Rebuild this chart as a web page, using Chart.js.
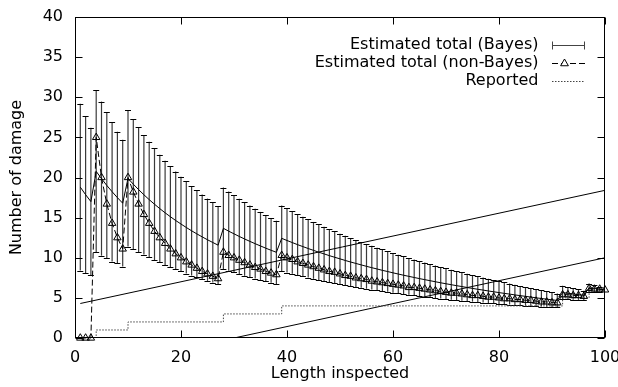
<!DOCTYPE html>
<html>
<head>
<meta charset="utf-8">
<script src="https://cdn.jsdelivr.net/npm/chart.js@4.4.1/dist/chart.umd.min.js"></script>
<style>
html,body{margin:0;padding:0;background:#fff;}
#wrap{width:618px;height:387px;}
</style>
</head>
<body>
<div id="wrap"><canvas id="c" width="618" height="387"></canvas></div>
<script>
// ---------- data ----------
const lengths = [1,2,3,4,5,6,7,8,9,10,11,12,13,14,15,16,17,18,19,20,21,22,23,24,25,26,27,28,29,30,
  31,32,33,34,35,36,37,38,39,40,41,42,43,44,45,46,47,48,49,50,51,52,53,54,55,56,57,58,59,60,
  61,62,63,64,65,66,67,68,69,70,71,72,73,74,75,76,77,78,79,80,81,82,83,84,85,86,87,88,89,90,
  91,92,93,94,95,96,97,98,99,100];

const reported = [0,0,0,1,1,1,1,1,1,2,2,2,2,2,2,2,2,2,2,2,2,2,2,2,2,2,2,3,3,3,
  3,3,3,3,3,3,3,3,4,4,4,4,4,4,4,4,4,4,4,4,4,4,4,4,4,4,4,4,4,4,
  4,4,4,4,4,4,4,4,4,4,4,4,4,4,4,4,4,4,4,4,4,4,4,4,4,4,4,4,4,4,
  4,5,5,5,5,5,6,6,6,6];

const bayesMean = [18.80,17.86,17.00,20.76,19.86,19.01,18.23,17.49,16.80,19.89,19.17,18.49,17.85,17.24,16.67,16.12,15.60,15.11,14.64,14.20,
  13.77,13.36,12.97,12.60,12.24,11.90,11.57,13.67,13.31,12.98,12.65,12.34,12.04,11.75,11.47,11.19,10.93,10.68,12.42,12.15,
  11.89,11.63,11.39,11.15,10.92,10.69,10.48,10.26,10.06,9.86,9.66,9.47,9.29,9.11,8.93,8.76,8.60,8.43,8.28,8.12,
  7.97,7.82,7.68,7.54,7.40,7.27,7.14,7.01,6.88,6.76,6.64,6.52,6.41,6.29,6.18,6.07,5.97,5.86,5.76,5.66,
  5.56,5.47,5.37,5.28,5.19,5.10,5.01,4.92,4.84,4.76,4.68,5.66,5.58,5.49,5.40,5.32,6.26,6.17,6.09,6.00];

const bayesErr = [10.4,9.8,9.2,10.1,9.6,9.1,8.7,8.2,7.9,8.5,8.1,7.8,7.45,7.2,6.95,6.7,6.5,6.3,6.1,5.9,
  5.74,5.58,5.42,5.27,5.13,4.99,4.85,5.07,4.94,4.81,4.69,4.57,4.46,4.35,4.24,4.13,4.03,3.94,4.09,3.99,
  3.89,3.80,3.71,3.62,3.54,3.46,3.37,3.29,3.22,3.14,3.07,3.00,2.93,2.86,2.79,2.72,2.66,2.60,2.53,2.47,
  2.41,2.35,2.29,2.24,2.18,2.13,2.07,2.02,1.96,1.91,1.86,1.81,1.76,1.71,1.65,1.61,1.56,1.51,1.46,1.41,
  1.36,1.31,1.26,1.21,1.16,1.11,1.06,1.01,0.96,0.91,0.85,0.84,0.78,0.72,0.65,0.58,0.52,0.42,0.30,0];

const nonBayes = [0,0,0,25.0,20.0,16.7,14.3,12.5,11.1,20.0,18.2,16.7,15.4,14.3,13.3,12.5,11.8,11.1,10.5,10.0,
  9.5,9.1,8.7,8.3,8.0,7.7,7.4,10.7,10.3,10.0,9.7,9.4,9.1,8.8,8.6,8.3,8.1,7.9,10.3,10.0,
  9.8,9.5,9.3,9.1,8.9,8.7,8.5,8.3,8.2,8.0,7.8,7.7,7.5,7.4,7.3,7.1,7.0,6.9,6.8,6.7,
  6.6,6.5,6.3,6.3,6.2,6.1,6.0,5.9,5.8,5.7,5.6,5.6,5.5,5.4,5.3,5.3,5.2,5.1,5.1,5.0,
  4.9,4.9,4.8,4.8,4.7,4.7,4.6,4.5,4.5,4.4,4.4,5.4,5.4,5.3,5.3,5.2,6.2,6.1,6.1,6.0];

const lineAX = [1, 100];
const lineAY = [4.3, 18.4];
const lineBX = [30, 100];
const lineBY = [0, 10];

const xTicks = [0, 20, 40, 60, 80, 100];
const yTicks = [0, 5, 10, 15, 20, 25, 30, 35, 40];
const seriesNames = ['Estimated total (Bayes)', 'Estimated total (non-Bayes)', 'Reported'];
const xTitle = 'Length inspected';
const yTitle = 'Number of damage';

// ---------- chart ----------
const FONT = {family: 'DejaVu Sans', size: 16};
Chart.defaults.font.family = FONT.family;
Chart.defaults.font.size = FONT.size;
Chart.defaults.color = '#000';

const pts = (xa, ya) => xa.map((x, i) => ({x: x, y: ya[i]}));

const TRI_DASH = [6, 3];
const DOT_DASH = [1.5, 1.5];
const BAR_COLOR = '#3a3a3a';

const gnuplotPlugin = {
  id: 'gnuplotLook',
  beforeDatasetsDraw(chart) {
    const ctx = chart.ctx, xs = chart.scales.x, ys = chart.scales.y;
    ctx.save();
    for (let i = 0; i < lengths.length; i++) {
      if (!bayesErr[i]) continue;
      const px = xs.getPixelForValue(lengths[i]);
      const hi = ys.getPixelForValue(bayesMean[i] + bayesErr[i]);
      const lo = ys.getPixelForValue(bayesMean[i] - bayesErr[i]);
      ctx.strokeStyle = BAR_COLOR;
      ctx.lineWidth = 1.2;
      ctx.beginPath();
      ctx.moveTo(px, hi); ctx.lineTo(px, lo);
      ctx.stroke();
      ctx.lineWidth = 1;
      ctx.strokeStyle = '#000';
      ctx.beginPath();
      ctx.moveTo(px - 3, Math.round(hi) + 0.5); ctx.lineTo(px + 3, Math.round(hi) + 0.5);
      ctx.moveTo(px - 3, Math.round(lo) + 0.5); ctx.lineTo(px + 3, Math.round(lo) + 0.5);
      ctx.stroke();
    }
    ctx.restore();
  },
  afterDraw(chart) {
    const ctx = chart.ctx, xs = chart.scales.x, ys = chart.scales.y;
    const a = chart.chartArea;
    ctx.save();
    ctx.strokeStyle = '#000';
    ctx.lineWidth = 1;
    const L = Math.round(a.left) + 0.5, R = Math.round(a.right) - 0.5;
    const T = Math.round(a.top) + 0.5, B = Math.round(a.bottom) - 0.5;
    ctx.strokeRect(L, T, R - L, B - T);
    ctx.beginPath();
    yTicks.forEach(v => {
      const py = Math.round(ys.getPixelForValue(v)) + 0.5;
      ctx.moveTo(L, py); ctx.lineTo(L + 7, py);
      ctx.moveTo(R, py); ctx.lineTo(R - 7, py);
    });
    xTicks.forEach(v => {
      const px = Math.round(xs.getPixelForValue(v)) + 0.5;
      ctx.moveTo(px, B); ctx.lineTo(px, B - 7);
      ctx.moveTo(px, T); ctx.lineTo(px, T + 7);
    });
    ctx.stroke();

    // key (legend)
    const rows = [45, 63, 81];
    const tx = 538.5, s0 = 552, s1 = 585;
    ctx.font = '16px "DejaVu Sans"';
    ctx.fillStyle = '#000';
    ctx.textAlign = 'right';
    ctx.textBaseline = 'middle';
    seriesNames.forEach((n, i) => ctx.fillText(n, tx, rows[i]));
    // Bayes sample
    let y = rows[0] + 0.5;
    ctx.strokeStyle = '#444';
    ctx.beginPath();
    ctx.moveTo(s0, y); ctx.lineTo(s1, y);
    ctx.moveTo(s0 + 0.5, y - 4); ctx.lineTo(s0 + 0.5, y + 4);
    ctx.moveTo(s1 - 0.5, y - 4); ctx.lineTo(s1 - 0.5, y + 4);
    ctx.stroke();
    // non-Bayes sample
    y = rows[1] + 0.5;
    ctx.strokeStyle = '#000';
    ctx.setLineDash(TRI_DASH);
    ctx.beginPath(); ctx.moveTo(s0, y); ctx.lineTo(s1, y); ctx.stroke();
    ctx.setLineDash([]);
    const cx = (s0 + s1) / 2 - 4, r = 4.5;
    ctx.beginPath();
    ctx.moveTo(cx, y - r);
    ctx.lineTo(cx + r * Math.sin(2.0944), y - r * Math.cos(2.0944));
    ctx.lineTo(cx + r * Math.sin(4.1888), y - r * Math.cos(4.1888));
    ctx.closePath();
    ctx.fillStyle = '#fff'; ctx.fill(); ctx.stroke();
    // Reported sample
    y = rows[2] + 0.5;
    ctx.strokeStyle = '#444';
    ctx.setLineDash(DOT_DASH);
    ctx.beginPath(); ctx.moveTo(s0, y); ctx.lineTo(s1, y); ctx.stroke();
    ctx.restore();
  }
};

new Chart(document.getElementById('c'), {
  type: 'line',
  data: {
    datasets: [
      {label: seriesNames[0], data: pts(lengths, bayesMean), borderColor: '#000', borderWidth: 1,
       pointRadius: 0, tension: 0, order: 2},
      {label: seriesNames[1], data: pts(lengths, nonBayes), borderColor: '#000', borderWidth: 1,
       borderDash: TRI_DASH, pointStyle: 'triangle', pointRadius: 4.3, pointBorderColor: '#000',
       pointBackgroundColor: 'rgba(255,255,255,0)', pointBorderWidth: 1, tension: 0, clip: false, order: 1},
      {label: seriesNames[2], data: pts(lengths, reported), borderColor: '#444', borderWidth: 1,
       borderDash: DOT_DASH, stepped: 'before', pointRadius: 0, order: 3},
      {label: 'lineA', data: pts(lineAX, lineAY), borderColor: '#000', borderWidth: 1, pointRadius: 0, order: 4},
      {label: 'lineB', data: pts(lineBX, lineBY), borderColor: '#000', borderWidth: 1, pointRadius: 0, order: 4}
    ]
  },
  options: {
    responsive: false,
    animation: false,
    devicePixelRatio: 1,
    layout: {padding: {left: 0, right: 13, top: 17, bottom: 0}},
    plugins: {legend: {display: false}, tooltip: {enabled: false}},
    scales: {
      x: {
        type: 'linear', min: 0, max: 100,
        afterBuildTicks: s => { s.ticks = xTicks.map(v => ({value: v})); },
        ticks: {color: '#000', padding: 10, maxRotation: 0, autoSkip: false},
        grid: {display: false, drawTicks: false},
        border: {display: false},
        title: {display: true, text: xTitle, color: '#000', padding: {top: 0, bottom: 4}},
        afterFit: s => { s.height = 49; s.paddingLeft = 0; s.paddingRight = 0; }
      },
      y: {
        type: 'linear', min: 0, max: 40,
        afterBuildTicks: s => { s.ticks = yTicks.map(v => ({value: v})); },
        ticks: {color: '#000', padding: 12, autoSkip: false},
        grid: {display: false, drawTicks: false},
        border: {display: false},
        title: {display: true, text: yTitle, color: '#000', padding: {top: 7.4, bottom: 0}},
        afterFit: s => { s.width = 75; s.paddingTop = 0; s.paddingBottom = 0; }
      }
    }
  },
  plugins: [gnuplotPlugin]
});
</script>
</body>
</html>
